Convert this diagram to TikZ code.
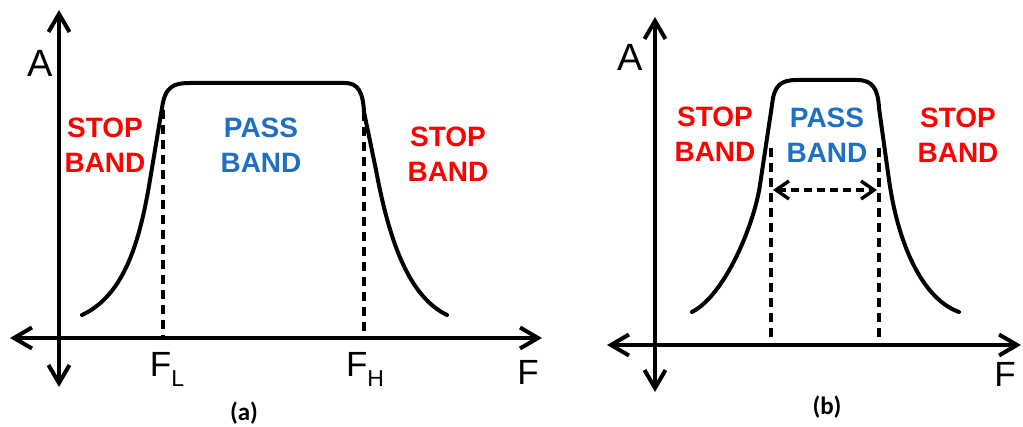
\documentclass[tikz,border=0pt]{standalone}
\usepackage{fontspec}
\setmainfont{Liberation Sans}
\newfontfamily\capfont{Carlito}
\usetikzlibrary{arrows.meta}
\definecolor{stopred}{HTML}{FF0000}
\definecolor{passblue}{HTML}{1F6FC4}
\begin{document}
\begin{tikzpicture}[x=1pt,y=-1pt,
  axis/.style={line width=4pt,{Straight Barb[length=18pt,width=21pt,line width=4pt]}-{Straight Barb[length=18pt,width=21pt,line width=4pt]}},
  resp/.style={line width=4pt,line join=round,line cap=round},
  guide/.style={line width=4pt,dash pattern=on 9pt off 6pt},
  stoplbl/.style={text=stopred,font=\bfseries\fontsize{28}{35}\selectfont,align=center,inner sep=0pt},
  passlbl/.style={text=passblue,font=\bfseries\fontsize{28}{35}\selectfont,align=center,inner sep=0pt},
  axlbl/.style={font=\fontsize{38}{42}\selectfont,inner sep=0pt},
  flbl/.style={font=\fontsize{35}{40}\selectfont,inner sep=0pt},
  caplbl/.style={font=\capfont\bfseries\fontsize{25}{28}\selectfont,inner sep=0pt}]
\useasboundingbox (0,0) rectangle (1023,427);
% ---------- panel (a) ----------
\coordinate (aL) at (10,338);
\coordinate (aR) at (542,338);
\coordinate (aT) at (59,10);
\coordinate (aB) at (59,387);
\draw[axis] (aL) -- (aR);
\draw[axis] (aB) -- (aT);
\draw[resp] (82,315) .. controls (125,295) and (140,240) .. (150,180) -- (162,108)
  .. controls (165,86) and (174,83) .. (190,83) -- (345,83)
  .. controls (358,83) and (363,92) .. (364,112) -- (376,170)
  .. controls (390,245) and (410,297) .. (447,315);
\coordinate (aFLt) at (163,110);
\coordinate (aFLb) at (163,338);
\coordinate (aFHt) at (364,112);
\coordinate (aFHb) at (364,338);
\draw[guide] (aFLt) -- (aFLb);
\draw[guide] (aFHt) -- (aFHb);
\node[axlbl] (aA) at (40,63) {A};
\node[flbl] (aF) at (528,372) {F};
\node[flbl,anchor=base] (aFL) at (167,377) {F\raisebox{-10pt}{\fontsize{23}{25}\selectfont L}};
\node[flbl,anchor=base] (aFH) at (365,377) {F\raisebox{-10pt}{\fontsize{23}{25}\selectfont H}};
\node[stoplbl] (aS1) at (105,145.5) {STOP\\BAND};
\node[passlbl] (aP) at (261,145.5) {PASS\\BAND};
\node[stoplbl] (aS2) at (448,154.5) {STOP\\BAND};
\node[caplbl] (acap) at (244,413) {(a)};
% ---------- panel (b) ----------
\coordinate (bL) at (607,345);
\coordinate (bR) at (1021,345);
\coordinate (bT) at (655,17);
\coordinate (bB) at (655,392);
\draw[axis] (bL) -- (bR);
\draw[axis] (bB) -- (bT);
\draw[resp] (692,312) .. controls (725,295) and (754,225) .. (760,185) -- (772,105)
  .. controls (774,86) and (780,80) .. (797,80) -- (857,80)
  .. controls (872,80) and (878,88) .. (879,108) -- (889,180)
  .. controls (899,250) and (925,300) .. (959,312);
\coordinate (bLt) at (771,148);
\coordinate (bLb) at (771,345);
\coordinate (bRt) at (879,148);
\coordinate (bRb) at (879,345);
\draw[guide] (bLt) -- (bLb);
\draw[guide] (bRt) -- (bRb);
\coordinate (bw1) at (773,190);
\coordinate (bw2) at (877,190);
\draw[line width=3.4pt,dash pattern=on 8pt off 5pt,{Straight Barb[length=13pt,width=18pt,line width=3.4pt]}-{Straight Barb[length=13pt,width=18pt,line width=3.4pt]}] (bw1) -- (bw2);
\node[axlbl] (bA) at (630,57) {A};
\node[flbl] (bF) at (1005,374) {F};
\node[stoplbl] (bS1) at (715,134.5) {STOP\\BAND};
\node[passlbl] (bP) at (827,135.5) {PASS\\BAND};
\node[stoplbl] (bS2) at (958,135.5) {STOP\\BAND};
\node[caplbl] (bcap) at (827,407) {(b)};
\end{tikzpicture}
\end{document}
